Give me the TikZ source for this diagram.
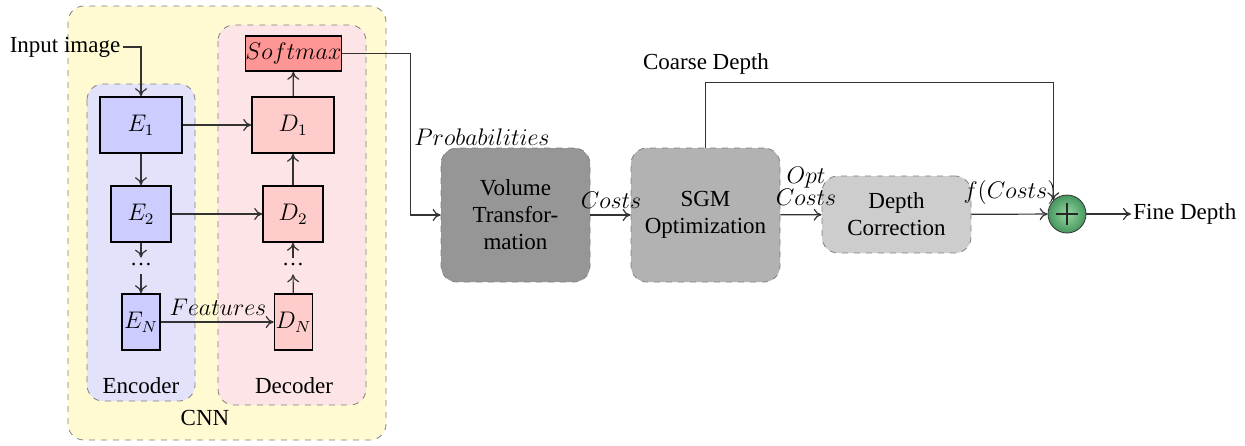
\documentclass[tikz,border=0pt]{standalone}
\usepackage{fontspec}
\setmainfont{Liberation Serif}
\usetikzlibrary{arrows.meta,calc}
\definecolor{cnnfill}{RGB}{255,250,210}
\definecolor{encfill}{RGB}{226,226,250}
\definecolor{decfill}{RGB}{253,228,230}
\definecolor{eblock}{RGB}{204,204,255}
\definecolor{dblock}{RGB}{255,204,204}
\definecolor{smfill}{RGB}{255,150,150}
\definecolor{volfill}{RGB}{150,150,150}
\definecolor{sgmfill}{RGB}{178,178,178}
\definecolor{corfill}{RGB}{205,205,205}
\definecolor{ballin}{RGB}{150,215,160}
\definecolor{ballout}{RGB}{70,150,95}
\tikzset{
  group/.style={draw=gray, dashed, rounded corners=8pt},
  blk/.style={draw=black, thick, inner sep=0pt, font=\fontsize{12}{14}\selectfont},
  stage/.style={draw=gray, dashed, rounded corners=8pt, align=center, inner sep=0pt, font=\fontsize{11.5}{13.5}\selectfont},
  conn/.style={draw=black!80, semithick, -{To[length=4pt,width=6pt]}},
  lbl/.style={font=\fontsize{11.5}{13}\selectfont, inner sep=1pt},
  mlbl/.style={font=\fontsize{12}{14}\selectfont, inner sep=1pt, align=center},
}
\begin{document}
\begin{tikzpicture}[x=0.5pt,y=-0.5pt]
\useasboundingbox (0,0) rectangle (1245,445);
% containers
\draw[group, fill=cnnfill] (68,6) rectangle (386,440);
\draw[group, fill=encfill] (87,84) rectangle (195,401);
\draw[group, fill=decfill] (218,25) rectangle (366,405);
\node[lbl] (cnnlbl) at (205,418) {CNN};
\node[lbl] (enclbl) at (141,386) {Encoder};
\node[lbl] (declbl) at (294,386) {Decoder};
% blocks
\node[blk, fill=smfill, minimum width=46.5pt, minimum height=17.5pt] (sm) at (293.5,53.5) {$Softmax$};
\node[blk, fill=eblock, minimum width=41pt, minimum height=28pt] (E1) at (141,125) {$E_1$};
\node[blk, fill=dblock, minimum width=41pt, minimum height=28pt] (D1) at (293,125) {$D_1$};
\node[blk, fill=eblock, minimum width=30pt, minimum height=28pt] (E2) at (141,214) {$E_2$};
\node[blk, fill=dblock, minimum width=30pt, minimum height=28pt] (D2) at (293,214) {$D_2$};
\node[blk, fill=eblock, minimum width=19pt, minimum height=28pt] (EN) at (141,322) {$E_N$};
\node[blk, fill=dblock, minimum width=19pt, minimum height=28pt] (DN) at (293.5,322) {$D_N$};
\node[inner sep=0pt, minimum height=8pt, font=\fontsize{11}{12}\selectfont] (ed) at (141,266) {\raisebox{2pt}{\dots}};
\node[inner sep=0pt, minimum height=8pt, font=\fontsize{11}{12}\selectfont] (dd) at (293,266) {\raisebox{2pt}{\dots}};
\node[lbl] (inp) at (65,47) {Input image};
% pipeline
\node[stage, fill=volfill, minimum width=74.5pt, minimum height=67pt] (vol) at (515.5,215) {Volume\\Transfor-\\mation};
\node[stage, fill=sgmfill, minimum width=74.5pt, minimum height=67pt] (sgm) at (705.5,215) {SGM\\Optimization};
\node[stage, fill=corfill, minimum width=74.5pt, minimum height=38.5pt] (cor) at (896.5,214.5) {Depth\\Correction};
\node[circle, draw=black!80, inner color=ballin, outer color=ballout, minimum size=19pt, inner sep=0pt] (plus) at (1067,214) {};
\draw[black!85, thick] ($(plus.center)+(-11,0)$) -- ($(plus.center)+(11,0)$)
      ($(plus.center)+(0,-11)$) -- ($(plus.center)+(0,11)$);
\node[lbl, anchor=west] (fine) at (1131,214) {Fine Depth};
\node[lbl] (coarse) at (706,64) {Coarse Depth};
\node[mlbl] (prob) at (482,137) {$Probabilities$};
\node[mlbl] (costs) at (611,200) {$Costs$};
\node[mlbl] (opt) at (806,186) {$Opt$\\[-3pt]$Costs$};
\node[mlbl] (fc) at (1010,192) {$f(Costs)$};
\node[mlbl] (feat) at (218,307) {$Features$};
% connectors
\draw[conn] (inp.east) -| (E1.north);
\draw[conn] (E1) -- (D1);
\draw[conn] (E2) -- (D2);
\draw[conn] (EN) -- (DN);
\draw[conn] (E1) -- (E2);
\draw[conn] (E2) -- (ed);
\draw[conn] (ed) -- (EN);
\draw[conn] (DN) -- (dd);
\draw[conn] (dd) -- (D2);
\draw[conn] (D2) -- (D1);
\draw[conn] (D1) -- (sm);
\draw[conn] (sm.east) -- ++(68,0) |- (vol.west);
\draw[conn] (vol) -- (sgm);
\draw[conn] (sgm) -- (cor);
\draw[conn] (cor) -- (plus);
\draw[conn] (sgm.north) -- ++(0,-65) -| (plus.north west);
\draw[conn] (plus) -- (fine);
\end{tikzpicture}
\end{document}
